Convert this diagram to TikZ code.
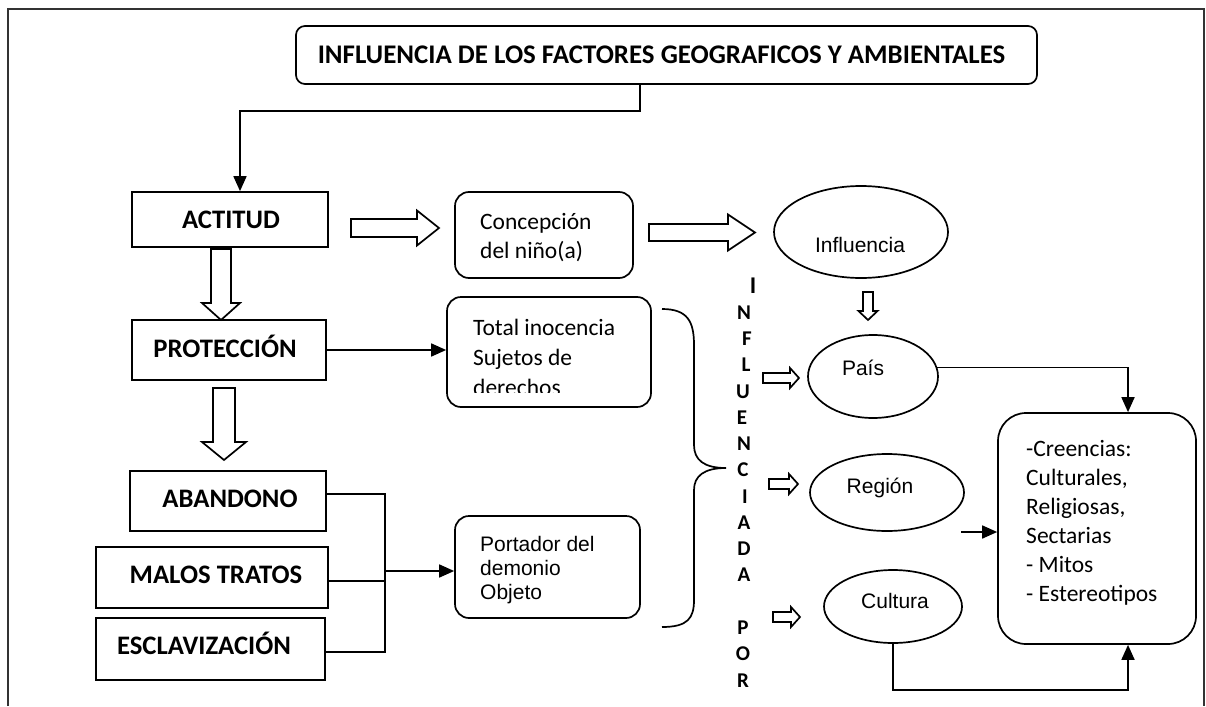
\documentclass[tikz,border=0pt]{standalone}
\usepackage{fontspec}
\setmainfont{Carlito}
\newfontfamily\arialf{Liberation Sans}
\usetikzlibrary{shapes.geometric,arrows.meta}
\newcommand{\harrowR}[6]{\draw[hollow] (#1,#3-#4) -- (#2-#6,#3-#4) -- (#2-#6,#3-#5) -- (#2,#3) -- (#2-#6,#3+#5) -- (#2-#6,#3+#4) -- (#1,#3+#4) -- cycle;}
\newcommand{\harrowD}[6]{\draw[hollow] (#1-#4,#2) -- (#1-#4,#3-#6) -- (#1-#5,#3-#6) -- (#1,#3) -- (#1+#5,#3-#6) -- (#1+#4,#3-#6) -- (#1+#4,#2) -- cycle;}
\begin{document}
\begin{tikzpicture}[x=1pt,y=-1pt,
  lw/.style={line width=1.7pt},
  box/.style={draw,lw,rectangle,inner sep=0pt},
  rbox/.style={box,rounded corners=#1},
  oval/.style={draw,lw,ellipse,inner sep=0pt},
  lbl/.style={font=\fontsize{26.7}{30}\selectfont\bfseries,inner sep=0pt,anchor=base},
  txt/.style={font=\fontsize{23.5}{29}\selectfont,inner sep=0pt,anchor=base west},
  atxt/.style={font=\arialf\fontsize{21}{24}\selectfont,inner sep=0pt,anchor=base},
  atxtl/.style={atxt,anchor=base west},
  vl/.style={font=\fontsize{21}{24}\selectfont\bfseries,inner sep=0pt,anchor=base},
  conn/.style={lw,-{Triangle[length=15pt,width=13pt]}},
  hollow/.style={draw,lw,fill=white,line join=miter},
]
\useasboundingbox (0,0) rectangle (1206,706);
% frame
\draw[line width=1.8pt,black!80] (8,706) -- (8,9) -- (1204,9) -- (1204,706);

% title
\node[rbox=9pt,minimum width=741pt,minimum height=58pt] (title) at (666.5,55) {};
\node[lbl,font=\fontsize{26.9}{30}\selectfont\bfseries] (titletxt) at (661.5,64) {INFLUENCIA DE LOS FACTORES GEOGRAFICOS Y AMBIENTALES};

% left column boxes
\node[box,minimum width=196pt,minimum height=55pt] (actitud) at (230,219.5) {};
\node[lbl] (actitudtxt) at (231,228) {ACTITUD};
\node[box,minimum width=194pt,minimum height=60pt] (proteccion) at (229,350) {};
\node[lbl] (protecciontxt) at (225,357.5) {PROTECCIÓN};
\node[box,minimum width=196pt,minimum height=60pt] (abandono) at (228,501) {};
\node[lbl] (abandonotxt) at (230,507) {ABANDONO};
\node[box,minimum width=232pt,minimum height=61pt] (malos) at (212,577.5) {};
\node[lbl] (malostxt) at (216,583) {MALOS TRATOS};
\node[box,minimum width=229pt,minimum height=62pt] (esclav) at (210.5,649) {};
\node[lbl] (esclavtxt) at (204,654) {ESCLAVIZACIÓN};

% middle boxes
\node[rbox=14pt,minimum width=178pt,minimum height=86pt] (concepcion) at (544,235) {};
\node[txt] (c1) at (480,229) {Concepción};
\node[txt] (c2) at (480,258) {del niño(a)};
\node[rbox=14pt,minimum width=204pt,minimum height=110pt] (total) at (549,352) {};
\node[txt] (t1) at (473,335) {Total inocencia};
\node[txt] (t2) at (473,365) {Sujetos de};
\begin{scope}
\clip (447,297) rectangle (651,392);
\node[txt] (t3) at (473,395) {derechos};
\end{scope}
\node[rbox=14pt,minimum width=185pt,minimum height=102pt] (portador) at (547.5,567) {};
\node[atxtl] (p1) at (480,551) {Portador del};
\node[atxtl] (p2) at (480,575) {demonio};
\node[atxtl] (p3) at (480,599) {Objeto};

% ellipses
\node[oval,minimum width=174pt,minimum height=92pt] (influencia) at (861,232) {};
\node[atxt] (influenciatxt) at (860,252) {Influencia};
\node[oval,minimum width=130pt,minimum height=83pt] (pais) at (873,376.5) {};
\node[atxt] (paistxt) at (863,375) {País};
\node[oval,minimum width=154pt,minimum height=77pt] (region) at (887,492.5) {};
\node[atxt] (regiontxt) at (880,493) {Región};
\node[oval,minimum width=138pt,minimum height=73pt] (cultura) at (893,606.5) {};
\node[atxt] (culturatxt) at (895,608) {Cultura};

% right box
\node[rbox=28pt,minimum width=198pt,minimum height=231pt] (creencias) at (1097,528.5) {};
\node[txt] (r1) at (1026,456) {-Creencias:};
\node[txt] (r2) at (1026,485) {Culturales,};
\node[txt] (r3) at (1026,514) {Religiosas,};
\node[txt] (r4) at (1026,543) {Sectarias};
\node[txt] (r5) at (1026,572) {- Mitos};
\node[txt] (r6) at (1026,601) {- Estereotipos};

% vertical letters
\node[vl,font=\fontsize{24}{26}\selectfont\bfseries] (v0) at (753,293) {I};
\foreach \i/\ch/\xx in {1/N/744,2/F/747,3/L/746,4/U/743,5/E/742,6/N/744,7/C/743,8/I/745,9/A/744,10/D/744,11/A/744,13/P/743,14/O/743,15/R/743}
  \node[vl] (v\i) at (\xx,293+\i*26.27) {\ch};

% brace
\draw[lw] (662,309) .. controls (688,309) and (694,322) .. (694,345) -- (694,445)
  .. controls (694,460) and (704,468) .. (726,468)
  .. controls (704,468) and (694,476) .. (694,490) -- (694,600)
  .. controls (694,618) and (688,627) .. (662,627);

% hollow arrows
\harrowR{351}{439}{228}{9}{17.5}{22}
\harrowR{649}{755}{232.5}{8.5}{18}{27}
\harrowD{221}{249}{320}{10}{19}{17}
\harrowD{224}{388}{460}{11}{22}{18}
\harrowD{868}{292}{320}{5}{9.5}{9}
\harrowR{763}{799}{378}{5}{10}{9}
\harrowR{769}{798}{484}{5}{10}{9}
\harrowR{773}{800}{617}{5}{10}{9}

% connectors
\draw[conn] ([xshift=-26.5pt]title.south) -- ++(0,26) -| ([xshift=10pt]actitud.north);
\draw[conn] (proteccion.east) -- (proteccion.east -| total.west);
\coordinate (jtop) at (385,494);
\coordinate (jbot) at (385,652);
\coordinate (jmid) at (385,571);
\draw[lw] ([yshift=7pt]abandono.east) -- (jtop) -- (jbot) -- (esclav.east |- jbot);
\draw[lw] ([yshift=-3.5pt]malos.east) -- ++(57,0);
\draw[conn] (jmid) -- (jmid -| portador.west);
\draw[conn] (pais.8) -| ([xshift=31pt]creencias.north);
\draw[conn] (cultura.south) -- ++(0,46) -| ([xshift=31pt]creencias.south);
\coordinate (rin) at (961,532);
\draw[conn] (rin) -- (rin -| creencias.west);
\end{tikzpicture}
\end{document}
